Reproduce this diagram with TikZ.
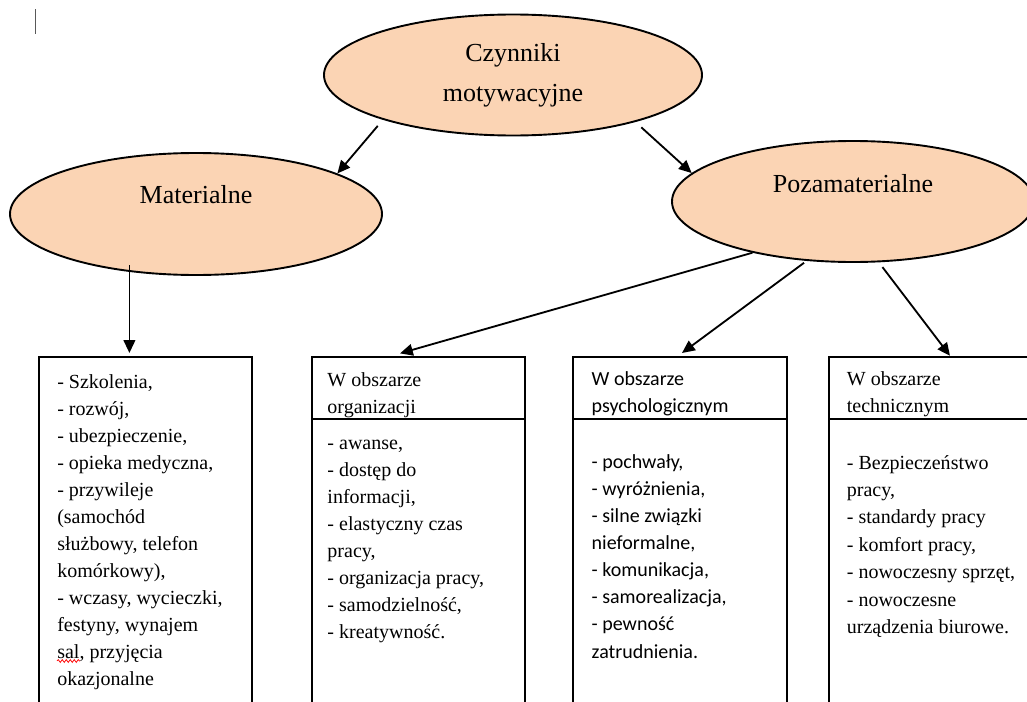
\documentclass[tikz,border=0pt]{standalone}
\usepackage{fontspec}
\setmainfont{Liberation Serif}
\newfontfamily\calib{Carlito}
\usetikzlibrary{positioning,calc,arrows.meta,shapes.geometric,decorations.pathmorphing}
\definecolor{peach}{HTML}{FBD4B4}
\definecolor{caret}{gray}{0.35}
\tikzset{
  elp/.style={ellipse, draw, line width=1.35pt, fill=peach, inner sep=0pt, align=center, font=\fontsize{18.5}{28.4}\selectfont},
  box/.style={draw, line width=1.4pt, outer sep=0pt, minimum width=5.33cm, anchor=north west},
  txt/.style={anchor=base west, inner sep=0pt, text width=5cm, align=flush left},
  arr/.style={-{Triangle[length=3.2mm, width=2.9mm]}, line width=1.3pt},
  spell/.style={red, line width=0.5pt, decorate, decoration={snake, amplitude=0.35mm, segment length=1mm}}}
\begin{document}
\begin{tikzpicture}[font=\fontsize{14.23}{19.2}\selectfont]
\useasboundingbox (0,0) rectangle (25.675,-17.55);
\clip (0,0) rectangle (25.675,-17.55);
\draw[caret, line width=0.7pt] (0.8875,-0.225) -- (0.8875,-0.85);
% ellipses
\node[elp, minimum width=9.45cm, minimum height=3.025cm] (top) at (12.825,-1.875) {Czynniki\\motywacyjne};
\node[elp, minimum width=9.3cm, minimum height=3.05cm, text depth=0.995cm] (mat) at (4.9,-5.35) {Materialne};
\node[elp, minimum width=9.05cm, minimum height=3.025cm, text depth=0.92cm] (poza) at (21.325,-5.0375) {Pozamaterialne};
% boxes
\node[box, minimum height=9.575cm] (m1) at (0.975,-8.925) {};
\node[box, minimum height=1.55cm, right=1.5cm of m1.north east, anchor=north west] (o1h) {};
\node[box, minimum height=8.025cm, below=0pt of o1h] (o1b) {};
\node[box, minimum height=1.55cm, right=1.2cm of o1h.north east, anchor=north west] (p1h) {};
\node[box, minimum height=8.025cm, below=0pt of p1h] (p1b) {};
\node[box, minimum height=1.55cm, right=1.05cm of p1h.north east, anchor=north west] (t1h) {};
\node[box, minimum height=8.025cm, below=0pt of t1h] (t1b) {};
% texts
\node[txt] (mtxt) at ($(m1.north west)+(0.45,-0.79)$) {- Szkolenia,\\- rozwój,\\- ubezpieczenie,\\- opieka medyczna,\\- przywileje\\(samochód\\służbowy, telefon\\komórkowy),\\- wczasy, wycieczki,\\festyny, wynajem\\sal, przyjęcia\\okazjonalne};
\draw[spell] ($(m1.north west)+(0.45,-7.6)$) -- ++(0.58,0);
\node[txt] (otit) at ($(o1h.north west)+(0.375,-0.74)$) {W obszarze\\organizacji};
\node[txt] (otxt) at ($(o1b.north west)+(0.375,-0.755)$) {- awanse,\\- dostęp do\\informacji,\\- elastyczny czas\\pracy,\\- organizacja pracy,\\- samodzielność,\\- kreatywność.};
\node[txt, font=\calib\fontsize{14.23}{19.3}\selectfont] (ptit) at ($(p1h.north west)+(0.45,-0.72)$) {W obszarze\\psychologicznym};
\node[txt, font=\calib\fontsize{14.23}{19.3}\selectfont] (ptxt) at ($(p1b.north west)+(0.45,-1.23)$) {- pochwały,\\- wyróżnienia,\\- silne związki\\nieformalne,\\- komunikacja,\\- samorealizacja,\\- pewność\\zatrudnienia.};
\node[txt] (ttit) at ($(t1h.north west)+(0.45,-0.72)$) {W obszarze\\technicznym};
\node[txt, font=\fontsize{14.23}{19.5}\selectfont] (ttxt) at ($(t1b.north west)+(0.45,-1.25)$) {- Bezpieczeństwo\\pracy,\\- standardy pracy\\- komfort pracy,\\- nowoczesny sprzęt,\\- nowoczesne\\urządzenia biurowe.};
% arrows
\draw[arr, shorten <=0.2cm] (top.199.8) -- (mat.16.1);
\draw[arr, shorten <=0.2cm] (top.339.8) -- (poza.170.1);
\draw[arr, shorten <=-0.16cm, shorten >=0.1cm] (mat.221.8) -- (mat.221.8 |- m1.north);
\draw[arr] (poza.207.2) -- ($(o1h.north)+(-0.47,0.09)$);
\draw[arr, shorten <=0.08cm] (poza.232.2) -- ($(p1h.north)+(0.05,0.1)$);
\draw[arr, shorten <=0.15cm] (poza.293.1) -- ($(t1h.north)+(0.37,0.03)$);
\end{tikzpicture}
\end{document}
